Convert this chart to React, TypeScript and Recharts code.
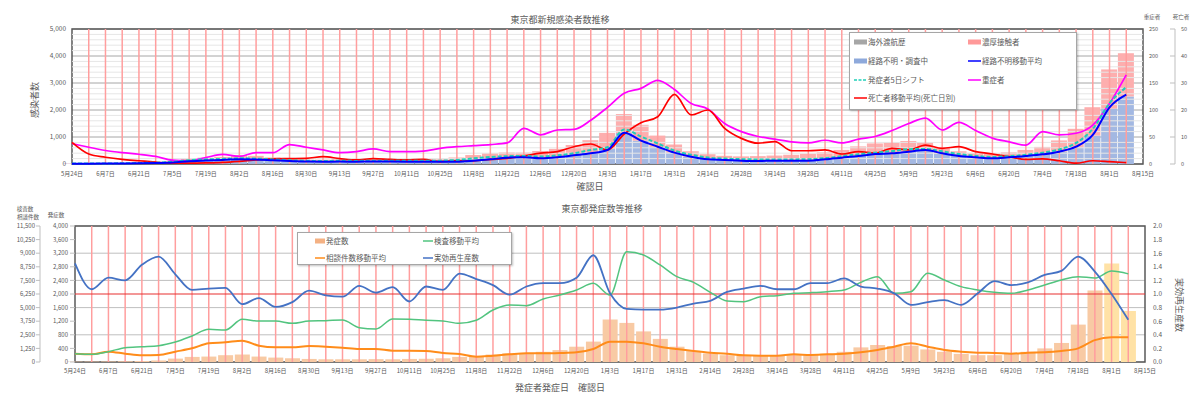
import React from 'react';
import {
  ComposedChart, Bar, Line, XAxis, YAxis, CartesianGrid, ReferenceLine, ReferenceArea, Legend, Cell,
} from 'recharts';

const FONT = "'Noto Sans CJK JP', 'Noto Sans', sans-serif";
const TXT = '#595959';

// x tick labels every 14 days from 2020-05-24 (day 0) to 2021-08-15 (day 448)
const xTickLabels = ['5月24日','6月7日','6月21日','7月5日','7月19日','8月2日','8月16日','8月30日','9月13日','9月27日','10月11日','10月25日','11月8日','11月22日','12月6日','12月20日','1月3日','1月17日','1月31日','2月14日','2月28日','3月14日','3月28日','4月11日','4月25日','5月9日','5月23日','6月6日','6月20日','7月4日','7月18日','8月1日','8月15日'];

// ---- Top chart (weekly values, week 0 = 5/24/2020) ----
const overseasBars = [2,2,2,3,3,3,3,3,3,3, 3,2,2,2,2,2,2,2,2,2, 2,2,2,2,2,2,2,2,2,2, 3,3,3,3,3,2,2,2,2,2, 2,2,2,2,2,2,2,2,2,2, 2,2,2,2,2,2,2,3,3,3, 3,3,3,3];
const unknownBars = [8,9,12,18,22,30,50,95,125,145, 180,165,135,105,88,85,90,85,95,88, 95,82,92,125,180,210,230,240,230,260, 340,420,560,1150,860,630,420,270,180,150, 130,115,125,125,130,175,230,300,370,400, 460,500,390,300,250,210,250,300,360,460, 620,1050,2050,2500];
const contactBars = [4,5,8,17,23,30,60,95,105,115, 150,135,105,95,72,75,80,85,85,82, 85,68,78,115,150,190,190,180,250,300, 360,460,590,700,590,420,300,200,180,150, 150,175,185,215,250,255,290,350,390,400, 390,300,210,170,160,180,180,220,270,410, 680,1050,1450,1600];
const unknownAvg = [10,12,15,20,25,35,55,100,130,150, 180,170,140,110,90,85,90,85,95,90, 86,86,80,86,123,173,235,247,210,247, 320,395,520,1160,865,640,420,270,173,150, 123,111,123,123,123,173,235,296,370,395, 457,520,395,296,247,210,247,296,358,457, 640,1075,2100,2570];
const onsetShift = [15,15,20,25,35,50,80,140,170,190, 210,200,170,140,120,110,120,115,120,120, 125,120,125,150,210,260,290,300,280,320, 400,520,620,1280,1020,760,500,340,240,200, 180,170,170,170,180,220,290,360,420,480, 550,560,470,370,300,260,290,340,420,540, 780,1300,2250,2850];
const severe = [38,31,25,21,18,14,7,6,12,18, 14,21,21,36,31,26,21,23,28,23, 23,24,29,32,34,36,39,66,54,63, 64,81,105,131,140,155,138,112,102,75, 60,51,46,41,39,44,39,46,51,62, 75,85,63,77,62,48,41,35,60,54, 57,72,112,165];
const deaths = [8,3.7,2.5,1.7,1.2,0.7,0.3,0.3,0.4,0.6, 1.0,1.5,1.9,2.0,2.1,2.7,2.0,1.5,2.0,1.7, 1.5,1.7,0.9,1.2,1.2,1.7,2.1,3.0,4.0,4.6, 6.4,7.4,5.2,11.1,15.3,17.5,25.8,18.2,20,13.2, 9.5,7.7,8.3,4.9,4.9,5.2,3.7,4.6,4.0,5.8, 5.2,7.0,5.8,6.4,4.6,3.7,2.7,1.7,1.9,1.2, 0.3,1.2,0.9,0.5];

// ---- Bottom chart ----
const onsetBars = [10,12,15,20,30,45,100,150,160,200, 220,160,130,110,90,80,80,80,85,80, 90,95,110,150,180,220,255,260,300,350, 450,600,1250,1150,900,680,450,320,250,200, 180,180,200,220,200,240,300,430,500,470, 480,370,300,240,200,200,240,300,400,560, 1100,2100,2900,1500];
const consultAvg = [705,648,874,705,564,592,874,1156,1579,1663, 1804,1381,1240,1240,1353,1297,1212,1099,1099,958, 958,930,761,677,451,536,648,733,733,761, 817,1099,1720,1720,1579,1297,1099,930,789,705, 564,536,536,648,592,648,705,817,1015,1297, 1579,1297,1015,874,789,761,705,789,817,930, 1156,1850,2100,2090];
const testAvg = [705,648,874,1212,1297,1381,1691,2199,2763,2706, 3608,3467,3467,3270,3467,3496,3552,2900,2791,3636, 3608,3524,3467,3270,3524,4398,4820,4764,5328,5666, 6089,6653,5666,9331,9049,8203,7217,6737,5892,5159, 5102,5525,5610,5807,5864,5948,6089,6737,7217,5807, 5948,7498,6935,6371,6089,5892,5807,6089,6512,6935, 7217,7100,7690,7450];
const rt = [1.45,1.07,1.24,1.2,1.43,1.55,1.29,1.06,1.08,1.09, 0.85,0.94,0.81,0.88,1.05,0.98,0.96,1.12,1.02,1.10, 0.89,1.11,1.06,1.30,1.22,1.13,0.99,1.11,1.16,1.16, 1.24,1.57,1.01,0.78,0.77,0.77,0.80,0.86,0.90,1.03, 1.08,1.12,1.07,1.07,1.16,1.16,1.23,1.11,1.08,1.01, 0.84,0.88,0.91,0.84,1.01,1.19,1.13,1.17,1.28,1.34, 1.55,1.33,1.0,0.62];

// axis ticks
const leftTicks = [0,1000,2000,3000,4000,5000];
const minorTicks = [200,400,600,800,1200,1400,1600,1800,2200,2400,2600,2800,3200,3400,3600,3800,4200,4400,4600,4800];
const severeTicks = [0,50,100,150,200,250];
const deathTicks = [0,10,20,30,40,50];
const onsetTicks = [0,400,800,1200,1600,2000,2400,2800,3200,3600,4000];
const countTicks = [0,1150,2300,3450,4600,5750,6900,8050,9200,10350,11500];
const countLabels = ['0','1,250','2,500','3,750','5,000','6,250','7,500','8,750','9,000','10,250','11,500'];
const rtTicks = [0,0.2,0.4,0.6,0.8,1.0,1.2,1.4,1.6,1.8,2.0];

const weekDays = Array.from({ length: 65 }, (_, i) => i * 7);
const innerWeekDays = weekDays.slice(1, -1);

type LegendItem = { label: string; kind: 'rect' | 'line' | 'dash'; color: string };
const topLegendItems: LegendItem[] = [
  { label: '海外渡航歴', kind: 'rect', color: '#A6A6A6' },
  { label: '濃厚接触者', kind: 'rect', color: '#FF9999' },
  { label: '経路不明・調査中', kind: 'rect', color: '#8EA9DB' },
  { label: '経路不明移動平均', kind: 'line', color: '#0000FF' },
  { label: '発症者5日シフト', kind: 'dash', color: '#1FCFB8' },
  { label: '重症者', kind: 'line', color: '#FF00FF' },
  { label: '死亡者移動平均(死亡日別)', kind: 'line', color: '#FF0000' },
];
const bottomLegendItems: LegendItem[] = [
  { label: '発症数', kind: 'rect', color: '#F4B183' },
  { label: '検査移動平均', kind: 'line', color: '#52C47F' },
  { label: '相談件数移動平均', kind: 'line', color: '#FF8C1A' },
  { label: '実効再生産数', kind: 'line', color: '#4472C4' },
];

const fmtThousands = (v: number) => v.toLocaleString('en-US');

function LegendBox(props: { items: LegendItem[]; colIcon: number[]; colText: number[]; rows: number[]; iconW: number; fontSize: number }) {
  const { items, colIcon, colText, rows, iconW, fontSize } = props;
  return (
    <div style={{ position: 'relative', width: '100%', height: '100%', background: '#fff', border: '1px solid #A6A6A6', boxShadow: '1px 1px 2px rgba(0,0,0,0.25)', boxSizing: 'border-box', fontFamily: FONT }}>
      {items.map((it, i) => {
        const r = Math.floor(i / 2);
        const c = i % 2;
        return (
          <React.Fragment key={i}>
            <svg width={iconW} height={6} style={{ position: 'absolute', left: colIcon[c], top: rows[r] - 3 }}>
              {it.kind === 'rect' && <rect x={0} y={0.5} width={iconW} height={5} fill={it.color} />}
              {it.kind === 'line' && <line x1={0} x2={iconW} y1={3} y2={3} stroke={it.color} strokeWidth={1.5} />}
              {it.kind === 'dash' && <line x1={0} x2={iconW} y1={3} y2={3} stroke={it.color} strokeWidth={1.5} strokeDasharray="3 1.5" />}
            </svg>
            <div style={{ position: 'absolute', left: colText[c], top: rows[r], transform: 'translateY(-50%)', fontSize, color: TXT, whiteSpace: 'nowrap', lineHeight: 1 }}>{it.label}</div>
          </React.Fragment>
        );
      })}
    </div>
  );
}

function Txt(props: { x: number; y: number; size: number; rotate?: number; children: React.ReactNode }) {
  const { x, y, size, rotate = 0, children } = props;
  return (
    <div style={{ position: 'absolute', left: x, top: y, transform: `translate(-50%,-50%) rotate(${rotate}deg)`, fontSize: size, color: TXT, fontFamily: FONT, whiteSpace: 'nowrap', lineHeight: 1 }}>{children}</div>
  );
}

const DeathTick = (props: any) => {
  const { x, y, payload } = props;
  return (
    <g>
      <line x1={x - 11} x2={x - 6} y1={y} y2={y} stroke="#BFBFBF" />
      <text x={x} y={y} dy="0.35em" fontSize={5.5} fill={TXT} fontFamily={FONT}>{payload.value}</text>
    </g>
  );
};

const xFmt = (v: number) => (v % 14 === 0 ? xTickLabels[v / 14] : '');

export default function App() {
  const rows = unknownBars.map((_, i) => ({
    day: i * 7,
    overseas: overseasBars[i],
    unknown: unknownBars[i],
    contact: contactBars[i],
    unknownAvg: unknownAvg[i],
    onsetShift: onsetShift[i],
    severe: severe[i],
    deaths: deaths[i],
    onset: onsetBars[i],
    consult: consultAvg[i],
    test: testAvg[i],
    rt: rt[i],
  }));
  const tickStyle = { fontSize: 6, fill: TXT, fontFamily: FONT };

  return (
    <div style={{ position: 'absolute', left: 0, top: 0, width: 1200, height: 401, background: '#fff', fontFamily: FONT, overflow: 'hidden' }}>
      <div style={{ position: 'absolute', left: 0, top: 0 }}>
        <ComposedChart width={1200} height={195} data={rows} margin={{ top: 29, right: 0, bottom: 0, left: 0 }}>
          <XAxis dataKey="day" type="number" domain={[0, 448]} ticks={weekDays} interval={0} tickFormatter={xFmt}
            height={31} axisLine={false} tickLine={false} tickSize={6} tickMargin={2} tick={tickStyle} />
          <YAxis yAxisId="a_left" width={72} domain={[0, 5000]} ticks={leftTicks} tickFormatter={fmtThousands}
            axisLine={false} tickLine={false} tickSize={4} tickMargin={2} tick={{ ...tickStyle, fontSize: 6.5 }} />
          <YAxis yAxisId="b_severe" orientation="right" width={32} domain={[0, 250]} ticks={severeTicks}
            axisLine={false} tickLine={false} tickSize={4} tickMargin={2} tick={{ ...tickStyle, fontSize: 5.5 }} />
          <YAxis yAxisId="c_death" orientation="right" width={25} domain={[0, 50]} ticks={deathTicks}
            axisLine={{ stroke: '#BFBFBF' }} tickLine={false} tickSize={0} tickMargin={6} tick={<DeathTick />} />
          <CartesianGrid yAxisId="a_left" vertical={false} stroke="#A6A6A6" />
          {minorTicks.map((v) => (
            <ReferenceLine key={'m' + v} yAxisId="a_left" y={v} stroke="#E6E6E6" strokeWidth={1} />
          ))}
          <Bar yAxisId="a_left" dataKey="overseas" stackId="a" fill="#A6A6A6" barSize={16} isAnimationActive={false} />
          <Bar yAxisId="a_left" dataKey="unknown" stackId="a" fill="#A3B8E2" barSize={16} isAnimationActive={false} />
          <Bar yAxisId="a_left" dataKey="contact" stackId="a" fill="#FDAEAE" barSize={16} isAnimationActive={false} />
          {innerWeekDays.map((d) => (
            <ReferenceLine key={'v' + d} yAxisId="a_left" x={d} stroke="#FF9E9E" strokeWidth={1.5} />
          ))}
          <Line yAxisId="b_severe" dataKey="severe" type="monotone" stroke="#FF00FF" strokeWidth={1.7} dot={false} isAnimationActive={false} />
          <Line yAxisId="c_death" dataKey="deaths" type="monotone" stroke="#FF0000" strokeWidth={1.7} dot={false} isAnimationActive={false} />
          <Line yAxisId="a_left" dataKey="onsetShift" type="monotone" stroke="#1FCFB8" strokeWidth={2} strokeDasharray="4 2" dot={false} isAnimationActive={false} />
          <Line yAxisId="a_left" dataKey="unknownAvg" type="monotone" stroke="#0000FF" strokeWidth={2} dot={false} isAnimationActive={false} />
          <ReferenceArea yAxisId="a_left" x1={0} x2={448} y1={0} y2={5000} fill="none" fillOpacity={0} stroke="#595959" strokeWidth={1.5} />
          <Legend layout="horizontal" verticalAlign="middle" align="center"
            wrapperStyle={{ left: 849, top: 32, width: 228, height: 78 }}
            content={() => (
              <LegendBox items={topLegendItems} colIcon={[4, 118]} colText={[18, 132]} rows={[9, 28, 47, 65]} iconW={13} fontSize={7.5} />
            )} />
        </ComposedChart>
      </div>

      <div style={{ position: 'absolute', left: 0, top: 195 }}>
        <ComposedChart width={1200} height={206} data={rows} margin={{ top: 31, right: 0, bottom: 0, left: 0 }}>
          <XAxis dataKey="day" type="number" domain={[0, 448]} ticks={weekDays} interval={0} tickFormatter={xFmt}
            height={39} axisLine={false} tickLine={false} tickSize={5} tickMargin={2} tick={tickStyle} />
          <YAxis yAxisId="a_onset" width={35} domain={[0, 4000]} ticks={onsetTicks} tickFormatter={fmtThousands}
            axisLine={false} tickLine={{ stroke: '#BFBFBF' }} tickSize={5} tickMargin={2} tick={tickStyle} />
          <YAxis yAxisId="b_count" width={40} domain={[0, 11500]} ticks={countTicks}
            tickFormatter={(v: number) => countLabels[Math.round(v / 1150)]}
            axisLine={{ stroke: '#BFBFBF' }} tickLine={{ stroke: '#BFBFBF' }} tickSize={4} tickMargin={1} tick={tickStyle} />
          <YAxis yAxisId="c_rt" orientation="right" width={55} domain={[0, 2]} ticks={rtTicks}
            tickFormatter={(v: number) => v.toFixed(1)}
            axisLine={false} tickLine={false} tickSize={6} tickMargin={2} tick={{ ...tickStyle, fontSize: 6.5 }} />
          <CartesianGrid yAxisId="a_onset" vertical={false} stroke="#BFBFBF" />
          <Bar yAxisId="a_onset" dataKey="onset" barSize={15} isAnimationActive={false}>
            {rows.map((_, i) => (
              <Cell key={i} fill={i >= 62 ? '#FFE2A6' : '#F8CAA4'} />
            ))}
          </Bar>
          {innerWeekDays.map((d) => (
            <ReferenceLine key={'bv' + d} yAxisId="a_onset" x={d} stroke="#FF9E9E" strokeWidth={1.5} />
          ))}
          <ReferenceLine yAxisId="c_rt" y={1} stroke="#E83030" strokeWidth={1.2} />
          <Line yAxisId="b_count" dataKey="consult" type="monotone" stroke="#FF8C1A" strokeWidth={2} dot={false} isAnimationActive={false} />
          <Line yAxisId="b_count" dataKey="test" type="monotone" stroke="#52C47F" strokeWidth={1.5} dot={false} isAnimationActive={false} />
          <Line yAxisId="c_rt" dataKey="rt" type="monotone" stroke="#4472C4" strokeWidth={1.8} dot={false} isAnimationActive={false} />
          <ReferenceArea yAxisId="a_onset" x1={0} x2={448} y1={0} y2={4000} fill="none" fillOpacity={0} stroke="#595959" strokeWidth={1.5} />
          <Legend layout="horizontal" verticalAlign="middle" align="center"
            wrapperStyle={{ left: 297, top: 37, width: 215, height: 33 }}
            content={() => (
              <LegendBox items={bottomLegendItems} colIcon={[17, 125]} colText={[28, 136]} rows={[8, 24.5]} iconW={10} fontSize={7.5} />
            )} />
        </ComposedChart>
      </div>

      <Txt x={560} y={19} size={9}>東京都新規感染者数推移</Txt>
      <Txt x={590} y={186} size={9}>確認日</Txt>
      <Txt x={34} y={100} size={9} rotate={-90}>感染者数</Txt>
      <Txt x={1152} y={17.5} size={5.5}>重症者</Txt>
      <Txt x={1181} y={17.5} size={5.5}>死亡者</Txt>

      <Txt x={602} y={208} size={9}>東京都発症数等推移</Txt>
      <Txt x={560} y={387} size={9}>発症者発症日　確認日</Txt>
      <Txt x={25} y={210} size={5.5}>検査数</Txt>
      <Txt x={28} y={218} size={5.5}>相談件数</Txt>
      <Txt x={56} y={216} size={5.5}>発症数</Txt>
      <Txt x={1179} y={305} size={9} rotate={90}>実効再生産数</Txt>
    </div>
  );
}
